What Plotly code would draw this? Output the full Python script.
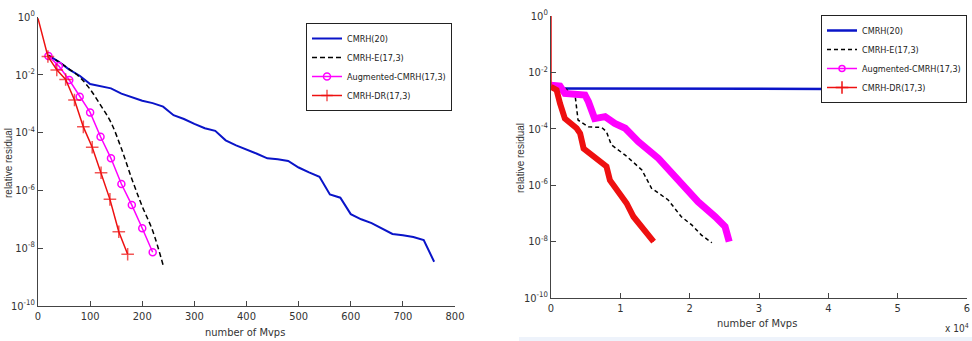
import plotly.graph_objects as go

# ---------------- data: left panel ----------------
L_cmrh_x = [20, 40, 60, 80, 100, 120, 140, 160, 180, 200, 220, 240, 260, 280, 300, 320, 340, 360, 380,
            400, 420, 440, 460, 480, 500, 520, 540, 560, 580, 600, 620, 640, 660, 680, 700, 720, 740, 760]
L_cmrh_y = [4.68e-2, 2.82e-2, 1.51e-2, 9.3e-3, 4.8e-3, 4.1e-3, 3.4e-3, 2.24e-3, 1.66e-3, 1.26e-3,
            1.05e-3, 7.9e-4, 4.0e-4, 2.95e-4, 2.0e-4, 1.41e-4, 1.15e-4, 5.4e-5, 3.6e-5, 2.63e-5,
            1.86e-5, 1.29e-5, 1.2e-5, 1.05e-5, 6.2e-6, 4.2e-6, 2.95e-6, 7.2e-7, 5.6e-7, 1.51e-7,
            1.0e-7, 7.4e-8, 4.7e-8, 3.1e-8, 2.8e-8, 2.45e-8, 1.9e-8, 3.4e-9]
L_e_x = [20, 40, 60, 80, 100, 120, 140, 160, 180, 200, 220, 240]
L_e_y = [4.68e-2, 2.82e-2, 1.58e-2, 8.3e-3, 3.16e-3, 8.9e-4, 2.24e-4, 2.8e-5, 2.5e-6, 2.8e-7, 4.0e-8, 2.6e-9]
L_aug_x = [20, 40, 60, 80, 100, 120, 140, 160, 180, 200, 220]
L_aug_y = [4.47e-2, 2.0e-2, 6.6e-3, 1.74e-3, 5.0e-4, 7.2e-5, 1.29e-5, 1.66e-6, 3.1e-7, 4.9e-8, 7.2e-9]
L_dr_x = [0, 19, 36, 53, 70, 87, 104, 121, 138, 155, 172]
L_dr_y = [0.9, 4.3e-2, 1.48e-2, 6.9e-3, 1.35e-3, 1.58e-4, 3.1e-5, 4.1e-6, 4.9e-7, 3.7e-8, 6.2e-9]

# ---------------- data: right panel ----------------
R_cmrh_x = [0, 10000, 20000, 25000, 30000, 40000, 45000, 50000, 55000, 60000]
R_cmrh_y = [2.7e-3, 2.7e-3, 2.68e-3, 2.6e-3, 2.66e-3, 2.62e-3, 2.55e-3, 2.55e-3, 2.45e-3, 2.4e-3]
R_e_x = [0, 2000, 3500, 3900, 5400, 7300, 8000, 8700, 10700, 13100, 14500, 16900, 18800, 20300, 21700, 23200]
R_e_y = [2.8e-3, 2.75e-3, 1.38e-3, 2.04e-4, 1.17e-4, 1.12e-4, 7.9e-5, 2.7e-5, 1.17e-5, 3.5e-6,
         7.8e-7, 3.0e-7, 7.6e-8, 3.9e-8, 1.7e-8, 9.1e-9]
R_aug_x = [0, 1300, 2000, 4900, 5400, 6300, 7800, 9200, 10700, 12600, 15500, 18400, 21200, 23700, 25100, 25700]
R_aug_y = [3.5e-3, 3.3e-3, 1.8e-3, 1.58e-3, 9.1e-4, 2.3e-4, 2.7e-4, 1.55e-4, 1.05e-4, 3.5e-5,
           8.9e-6, 1.5e-6, 2.6e-7, 7.6e-8, 3.4e-8, 1.0e-8]
R_dr_x = [0, 0, 800, 1300, 2000, 3700, 4200, 4700, 6300, 8000, 8500, 9500, 10900, 11900, 13100, 14800]
R_dr_y = [1.0, 3.1e-3, 2.4e-3, 7.9e-4, 2.3e-4, 1.05e-4, 6.9e-5, 2.0e-5, 1.02e-5, 4.6e-6,
          1.5e-6, 6.8e-7, 2.3e-7, 7.6e-8, 3.4e-8, 1.0e-8]

names = ["CMRH(20)", "CMRH-E(17,3)", "Augmented-CMRH(17,3)", "CMRH-DR(17,3)"]
ytick_vals = [1e-10, 1e-8, 1e-6, 1e-4, 1e-2, 1]
ytick_text = ["10<sup>-10</sup>", "10<sup>-8</sup>", "10<sup>-6</sup>", "10<sup>-4</sup>", "10<sup>-2</sup>", "10<sup>0</sup>"]
L_xticks = [0, 100, 200, 300, 400, 500, 600, 700, 800]
R_xticks = [0, 10000, 20000, 30000, 40000, 50000, 60000]
R_xtick_text = ["0", "1", "2", "3", "4", "5", "6"]

BLUE = "#0a14c8"
BLACK = "#000000"
MAG = "#ff00ff"
RED = "#ee1010"
FONT = "Liberation Sans Narrow, DejaVu Sans Condensed, Liberation Sans, Arial"

W, H = 972, 341


def px(x):
    return x / W


def py(y):
    return 1 - y / H


fig = go.Figure()

# left panel
fig.add_trace(go.Scatter(x=L_cmrh_x, y=L_cmrh_y, mode="lines", name=names[0],
                         line=dict(color=BLUE, width=2), xaxis="x", yaxis="y", legend="legend"))
fig.add_trace(go.Scatter(x=L_e_x, y=L_e_y, mode="lines", name=names[1], line_shape="spline",
                         line=dict(color=BLACK, width=1.5, dash="5px,3px"), xaxis="x", yaxis="y", legend="legend"))
fig.add_trace(go.Scatter(x=L_aug_x, y=L_aug_y, mode="lines+markers", name=names[2],
                         line=dict(color=MAG, width=1.5),
                         marker=dict(symbol="circle-open", size=7, color=MAG, line=dict(width=1.5, color=MAG)),
                         xaxis="x", yaxis="y", legend="legend"))
fig.add_trace(go.Scatter(x=L_dr_x, y=L_dr_y, mode="lines+markers", name=names[3],
                         line=dict(color=RED, width=1.5),
                         marker=dict(symbol="cross-thin", size=[0] + [9] * (len(L_dr_x) - 1),
                                     color=RED, line=dict(width=1.5, color=RED)),
                         xaxis="x", yaxis="y", legend="legend"))

# right panel
fig.add_trace(go.Scatter(x=R_cmrh_x, y=R_cmrh_y, mode="lines", name=names[0],
                         line=dict(color=BLUE, width=2.5), xaxis="x2", yaxis="y2", legend="legend2"))
fig.add_trace(go.Scatter(x=R_e_x, y=R_e_y, mode="lines", name=names[1],
                         line=dict(color=BLACK, width=1.5, dash="4px,3px"), xaxis="x2", yaxis="y2", legend="legend2"))
fig.add_trace(go.Scatter(x=R_aug_x, y=R_aug_y, mode="lines", showlegend=False,
                         line=dict(color=MAG, width=7), xaxis="x2", yaxis="y2"))
fig.add_trace(go.Scatter(x=R_dr_x, y=R_dr_y, mode="lines", showlegend=False,
                         line=dict(color=RED, width=1.5), xaxis="x2", yaxis="y2"))
fig.add_trace(go.Scatter(x=R_dr_x[1:], y=R_dr_y[1:], mode="lines", showlegend=False,
                         line=dict(color=RED, width=6), xaxis="x2", yaxis="y2"))
# legend entries for the thick right-panel series
fig.add_trace(go.Scatter(x=[None], y=[None], mode="lines+markers", name=names[2],
                         line=dict(color=MAG, width=1.5),
                         marker=dict(symbol="circle-open", size=6, color=MAG, line=dict(width=1.5, color=MAG)),
                         xaxis="x2", yaxis="y2", legend="legend2"))
fig.add_trace(go.Scatter(x=[None], y=[None], mode="lines+markers", name=names[3],
                         line=dict(color=RED, width=1.5),
                         marker=dict(symbol="cross-thin", size=9, color=RED, line=dict(width=1.5, color=RED)),
                         xaxis="x2", yaxis="y2", legend="legend2"))

axis_common = dict(showgrid=False, zeroline=False, showline=True, linecolor="#444", linewidth=1,
                   ticks="inside", ticklen=5, tickcolor="#444", mirror=False, automargin=False,
                   tickfont=dict(family=FONT, size=11, color="#333"))

legend_common = dict(xanchor="right", yanchor="top", bgcolor="white",
                     bordercolor="#222", borderwidth=1, font=dict(family=FONT, size=9, color="#222"),
                     itemwidth=30, tracegroupgap=0)

fig.update_layout(
    width=W, height=H,
    margin=dict(l=0, r=0, t=0, b=0, pad=0),
    paper_bgcolor="white", plot_bgcolor="white",
    font=dict(family=FONT, size=11, color="#222"),
    xaxis=dict(domain=[px(38), px(455)], range=[0, 800], tickvals=L_xticks, anchor="y", **axis_common),
    yaxis=dict(domain=[py(306), py(17)], type="log", range=[-10, 0],
               tickvals=ytick_vals, ticktext=ytick_text, anchor="x", **axis_common),
    xaxis2=dict(domain=[px(551), px(967)], range=[0, 60000], tickvals=R_xticks, ticktext=R_xtick_text,
                anchor="y2", **axis_common),
    yaxis2=dict(domain=[py(298), py(16)], type="log", range=[-10, 0],
                tickvals=ytick_vals, ticktext=ytick_text, anchor="x2", **axis_common),
    legend=dict(x=px(452), y=py(23), **legend_common),
    legend2=dict(x=px(967), y=py(15), **legend_common),
    showlegend=True,
)

ann_font = dict(family=FONT, size=11, color="#333")
ann_common = dict(xref="paper", yref="paper", showarrow=False, xanchor="center", yanchor="middle")
fig.add_annotation(x=px(245), y=py(332), text="number of Mvps", font=ann_font, **ann_common)
fig.add_annotation(x=px(757), y=py(323), text="number of Mvps", font=ann_font, **ann_common)
fig.add_annotation(x=px(8), y=py(163), text="relative residual", textangle=-90,
                   font=dict(family="Liberation Sans, Arial", size=10, color="#333"), **ann_common)
fig.add_annotation(x=px(520), y=py(158), text="relative residual", textangle=-90,
                   font=dict(family="Liberation Sans, Arial", size=10, color="#333"), **ann_common)
fig.add_annotation(x=px(957), y=py(328), text="x 10<sup>4</sup>",
                   font=dict(family=FONT, size=10, color="#333"), **ann_common)
fig.add_shape(type="rect", xref="paper", yref="paper", x0=px(519), x1=1, y0=0, y1=4 / H,
              fillcolor="#eef3fb", line=dict(width=0), layer="below")

fig.write_html("out.html", config={"displayModeBar": False},
               post_script="document.body.style.margin='0';")
